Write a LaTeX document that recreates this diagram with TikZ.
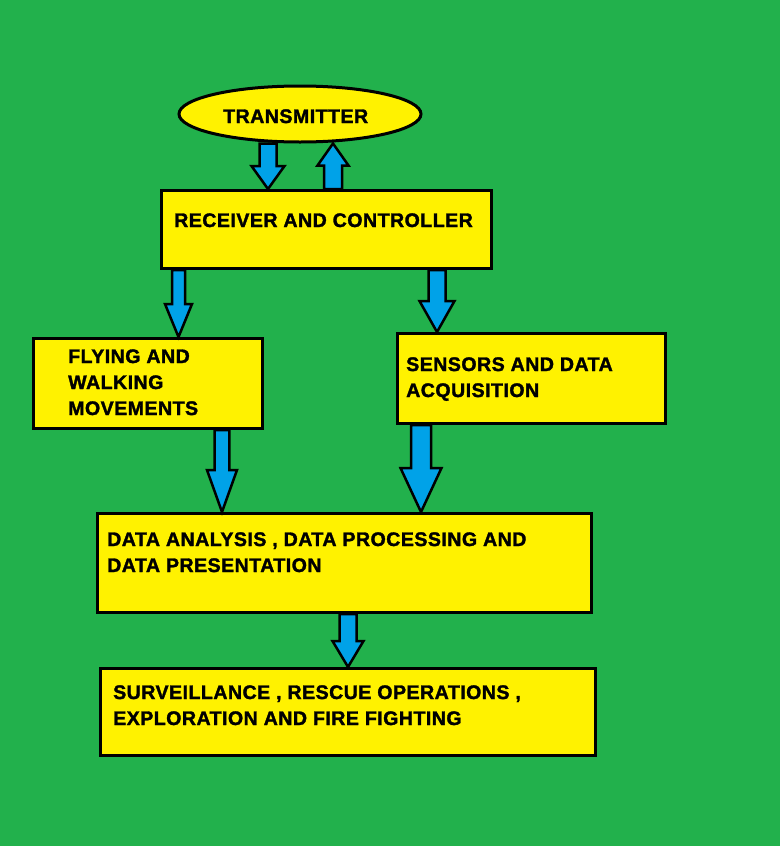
\documentclass[tikz,border=0pt]{standalone}
\usepackage{fontspec}
\usetikzlibrary{shapes.geometric,calc}
\newfontfamily\lblfont[FakeBold=1.6,LetterSpace=2.3]{Liberation Sans}
\definecolor{bggreen}{HTML}{22B14C}
\definecolor{boxyellow}{HTML}{FFF200}
\definecolor{arrblue}{HTML}{00A2E8}
\newcommand\blkarrow[5]{%
  \draw[blkarr] ($(#1)+({-(#3)},0)$) -- ($(#2)+({-(#3)},{-(#5)})$) -- ($(#2)+({-(#4)},{-(#5)})$) -- (#2)
    -- ($(#2)+({#4},{-(#5)})$) -- ($(#2)+({#3},{-(#5)})$) -- ($(#1)+({#3},0)$) -- cycle;}
\begin{document}
\begin{tikzpicture}[x=1pt,y=-1pt,
  boxnode/.style={draw=black,line width=3pt,fill=boxyellow,rectangle,inner sep=0pt,anchor=north west},
  ovalnode/.style={draw=black,line width=3pt,fill=boxyellow,ellipse,inner sep=0pt,minimum width=242pt,minimum height=56pt},
  lbl/.style={anchor=base west,inner sep=0pt,font=\lblfont\bfseries\fontsize{19.6}{26}\selectfont},
  blkarr/.style={draw=black,line width=2.5pt,fill=arrblue,line join=miter}]
  \fill[bggreen] (0,0) rectangle (780,846);
  \useasboundingbox (0,0) rectangle (780,846);
  % shapes
  \node[ovalnode] (tx) at (300,114) {};
  \node[boxnode,minimum width=330pt,minimum height=78pt] (rec) at (160,189) {};
  \node[boxnode,minimum width=229pt,minimum height=90pt] (fly) at (32,337) {};
  \node[boxnode,minimum width=268pt,minimum height=90pt] (sen) at (396,332) {};
  \node[boxnode,minimum width=494pt,minimum height=99pt] (dat) at (96,512) {};
  \node[boxnode,minimum width=495pt,minimum height=87pt] (sur) at (99,667) {};
  % labels
  \node[lbl] (txl) at (223,123) {TRANSMITTER};
  \node[lbl] (recl) at (174,227) {RECEIVER AND CONTROLLER};
  \node[lbl] (flyl1) at (68,363) {FLYING AND};
  \node[lbl] (flyl2) at (68,389) {WALKING};
  \node[lbl] (flyl3) at (68,415) {MOVEMENTS};
  \node[lbl] (senl1) at (406,371) {SENSORS AND DATA};
  \node[lbl] (senl2) at (406,397) {ACQUISITION};
  \node[lbl] (datl1) at (107,546) {DATA ANALYSIS , DATA PROCESSING AND};
  \node[lbl] (datl2) at (107,572) {DATA PRESENTATION};
  \node[lbl] (surl1) at (113,699) {SURVEILLANCE , RESCUE OPERATIONS ,};
  \node[lbl] (surl2) at (113,725) {EXPLORATION AND FIRE FIGHTING};
  % connector end points
  \coordinate (a1s) at (tx.south -| 268,0);
  \coordinate (a1e) at (rec.north -| 268,0);
  \coordinate (a2s) at (rec.north -| 333,0);
  \coordinate (a2e) at (tx.south -| 333,0);
  \coordinate (a3s) at (rec.south -| 178.5,0);
  \coordinate (a3e) at (fly.north -| 178.5,0);
  \coordinate (a4s) at (rec.south -| 437,0);
  \coordinate (a4e) at (sen.north -| 437,0);
  \coordinate (a5s) at (fly.south -| 222,0);
  \coordinate (a5e) at (dat.north -| 222,0);
  \coordinate (a6s) at (sen.south -| 421,0);
  \coordinate (a6e) at (dat.north -| 421,0);
  \coordinate (a7s) at (dat.south -| 348,0);
  \coordinate (a7e) at (sur.north -| 348,0);
  % block arrows
  \blkarrow{a1s}{a1e}{8.5}{16.5}{23}
  \blkarrow{a2s}{a2e}{9}{15.5}{-22}
  \blkarrow{a3s}{a3e}{6.5}{13.5}{33}
  \blkarrow{a4s}{a4e}{8.5}{17.5}{31}
  \blkarrow{a5s}{a5e}{7.3}{15}{42}
  \blkarrow{a6s}{a6e}{10}{20.5}{44}
  \blkarrow{a7s}{a7e}{8.5}{15.5}{26}
\end{tikzpicture}
\end{document}
